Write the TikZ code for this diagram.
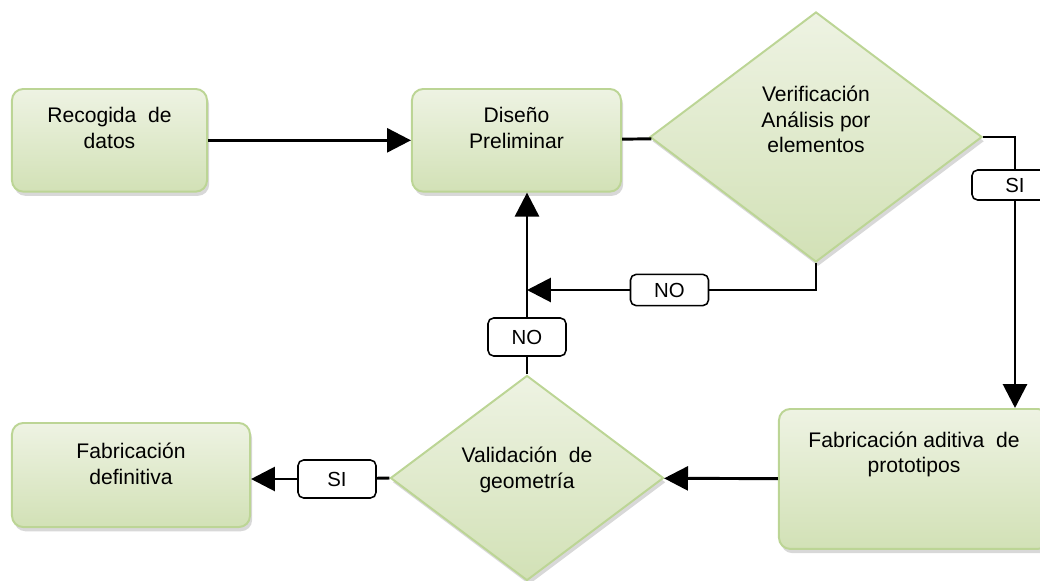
\documentclass[tikz,border=0pt]{standalone}
\usepackage{fontspec}
\setmainfont{Liberation Sans}
\usetikzlibrary{arrows.meta,shapes.geometric,shadows}
\definecolor{boxTop}{HTML}{EEF3E3}
\definecolor{boxBot}{HTML}{D2E1B6}
\definecolor{boxLine}{HTML}{BCD595}

\begin{document}
\begin{tikzpicture}[x=0.025cm,y=-0.025cm,
                    >={Triangle[length=17pt,width=17pt]},
                    line width=2.1pt,
                    procND/.style={rectangle,
                                   rounded corners=8pt,
                                   draw=boxLine,
                                   line width=1.4pt,
                                   top color=boxTop,
                                   bottom color=boxBot,
                                   drop shadow={shadow xshift=1.5pt,shadow yshift=-3pt,fill=black!30},
                                   align=center,
                                   inner sep=0pt,
                                   anchor=north,
                                   font=\fontsize{15}{18}\selectfont},
                    decND/.style={diamond,
                                  draw=boxLine,
                                  line width=1.4pt,
                                  top color=boxTop,
                                  bottom color=boxBot,
                                  drop shadow={shadow xshift=1.5pt,shadow yshift=-3pt,fill=black!30},
                                  align=center,
                                  inner sep=0pt,
                                  font=\fontsize{15}{18}\selectfont},
                    lblND/.style={rectangle,
                                  rounded corners=4pt,
                                  draw=black,
                                  line width=1.1pt,
                                  fill=white,
                                  inner sep=0pt,
                                  minimum width=1.95cm,
                                  font=\fontsize{14.5}{16}\selectfont}]
            \clip (0,0) rectangle (1040,580);
            % boxes
            \node[procND, minimum width=4.875cm, text height=42pt, text depth=31pt](rec) at (109.5,88) {Recogida\ \ de\\datos};
            \node[procND, minimum width=5.225cm, text height=42pt, text depth=31pt](dis) at (516.5,88) {Diseño\\Preliminar};
            \node[procND, minimum width=5.95cm,  text height=43.5pt, text depth=30.5pt](def) at (131,422) {Fabricación\\definitiva};
            \node[procND, minimum width=6.75cm,  text height=45.5pt, text depth=54pt](adi) at (914,408) {Fabricación aditiva\ \ de\\prototipos};
            % decisions
            \node[decND, minimum width=8.3cm,   minimum height=6.25cm,  text height=47pt, text depth=25pt](ver) at (816,137) {Verificación\\Análisis por\\elementos};
            \node[decND, minimum width=6.825cm, minimum height=5.125cm, text height=29pt, text depth=14.5pt](val) at (527,478) {Validación\ \ de\\geometría};
            % labels
            \node[lblND, minimum width=2.15cm, minimum height=0.75cm](siA) at (1015,185) {SI};
            \node[lblND, minimum height=0.78cm](noA) at (669.5,290) {NO};
            \node[lblND, minimum height=0.95cm](noB) at (527,337)   {NO};
            \node[lblND, minimum height=0.95cm](siB) at (337,479)   {SI};
            \coordinate (jn) at (527,290);
            % connectors
            \path
                (rec) edge [->] (dis)
                (dis) edge [-] (ver)
                (adi) edge [->] (val)
                ;
            \draw (ver.east) -| (siA);
            \draw[->] (siA) -- (siA |- adi.north);
            \draw (ver.south) |- (noA);
            \draw[->] (noA) -- (jn);
            \draw (val.north) -- (noB);
            \draw[->] (noB) -- (noB |- dis.south);
            \draw (val.west) -- (siB);
            \draw[->] (siB) -- (siB -| def.east);
        \end{tikzpicture}
\end{document}
